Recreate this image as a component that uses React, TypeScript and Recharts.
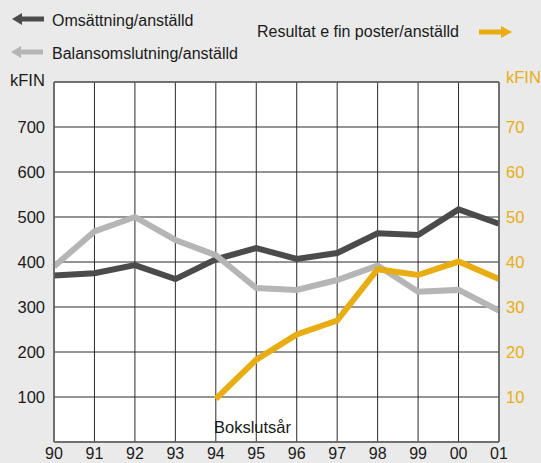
import { LineChart, Line, XAxis, YAxis, CartesianGrid, ReferenceLine } from "recharts"

const years = ["90", "91", "92", "93", "94", "95", "96", "97", "98", "99", "00", "01"]
const omsattning = [370, 375, 393, 362, 406, 431, 407, 420, 464, 460, 517, 485]
const balans = [390, 468, 500, 449, 415, 342, 338, 360, 392, 334, 338, 292]
const resultat: (number | null)[] = [null, null, null, null, 9.6, 18.3, 23.9, 27, 38.4, 37.1, 40.1, 36.2]
const leftTicks = [100, 200, 300, 400, 500, 600, 700]
const rightTicks = [10, 20, 30, 40, 50, 60, 70]

const data = years.map((y, i) => ({ year: y, oms: omsattning[i], bal: balans[i], res: resultat[i] }))

const FONT = "'Liberation Sans', Arial, Helvetica, sans-serif"
const DARK = "#4b4b4b"
const LIGHT = "#b5b5b5"
const ORANGE = "#e8ad12"
const GRID = "#2a2a2a"
const AXIS = "#666"

function Overlay() {
  return (
    <svg width={541} height={463} style={{ position: "absolute", left: 0, top: 0, pointerEvents: "none" }}>
      <g fontFamily={FONT}>
        {/* legend arrows */}
        <polygon points="12,19 22,13 22,16.5 44,16.5 44,21.5 22,21.5 22,25" fill={DARK} />
        <polygon points="11,52 21,46 21,49.5 43,49.5 43,54.5 21,54.5 21,58" fill={LIGHT} />
        <polygon points="512,32 501,26 501,29.5 479,29.5 479,34.5 501,34.5 501,38" fill={ORANGE} />
        <text x={52} y={26} fontSize={16} fill="#1a1a1a">Omsättning/anställd</text>
        <text x={52} y={59} fontSize={16} fill="#1a1a1a">Balansomslutning/anställd</text>
        <text x={257} y={37} fontSize={16} fill="#1a1a1a">Resultat e fin poster/anställd</text>
        <text x={10} y={86} fontSize={16.5} fill="#1a1a1a">kFIN</text>
        <text x={506} y={83} fontSize={16.5} fill={ORANGE}>kFIN</text>
        <text x={214} y={433} fontSize={16.5} fill="#1a1a1a">Bokslutsår</text>
      </g>
    </svg>
  )
}

export default function App() {
  return (
    <div style={{ position: "absolute", left: 0, top: 0, width: 541, height: 463, background: "#eaeaea" }}>
      <LineChart width={541} height={463} data={data} margin={{ top: 82, right: 0, left: 0, bottom: 0 }}>
        <CartesianGrid yAxisId="left" stroke={GRID} strokeWidth={1} fill="#fff" />
        <XAxis
          dataKey="year"
          height={21}
          tickSize={0}
          tickMargin={6}
          axisLine={{ stroke: AXIS, strokeWidth: 1.5 }}
          tick={{ fontSize: 16, fill: "#1a1a1a", fontFamily: FONT }}
          interval={0}
        />
        <YAxis
          yAxisId="left"
          width={54}
          domain={[0, 800]}
          ticks={leftTicks}
          tickSize={0}
          tickMargin={9}
          axisLine={{ stroke: AXIS, strokeWidth: 1.5 }}
          tick={{ fontSize: 16.5, fill: "#1a1a1a", fontFamily: FONT }}
        />
        <YAxis
          yAxisId="right"
          orientation="right"
          width={42}
          domain={[0, 80]}
          ticks={rightTicks}
          tickSize={0}
          tickMargin={7}
          axisLine={{ stroke: AXIS, strokeWidth: 1.5 }}
          tick={{ fontSize: 16.5, fill: ORANGE, fontFamily: FONT }}
        />
        <ReferenceLine yAxisId="left" y={800} stroke={AXIS} strokeWidth={1.5} />
        <Line yAxisId="left" dataKey="oms" stroke={DARK} strokeWidth={6} dot={false} isAnimationActive={false} />
        <Line yAxisId="left" dataKey="bal" stroke={LIGHT} strokeWidth={6} dot={false} isAnimationActive={false} />
        <Line yAxisId="right" dataKey="res" stroke={ORANGE} strokeWidth={6} dot={false} isAnimationActive={false} />
      </LineChart>
      <Overlay />
    </div>
  )
}
